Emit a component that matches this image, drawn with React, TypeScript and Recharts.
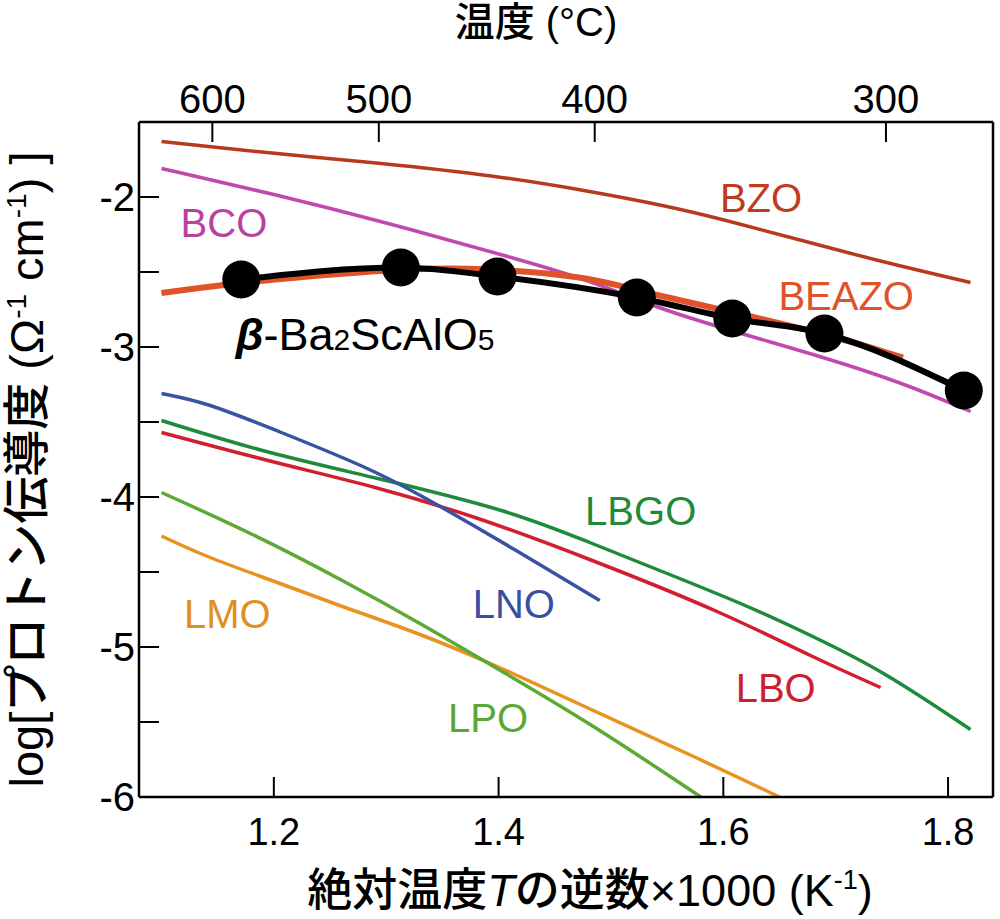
import React from "react";
import { LineChart, Line, XAxis, YAxis, ReferenceLine, ReferenceDot } from "recharts";

const FONT = "'Liberation Sans', Arial, 'Noto Sans CJK JP', sans-serif";

// axis ticks
const X_TICKS = [1.2, 1.4, 1.6, 1.8];
const Y_TICKS = [-6, -5.5, -5, -4.5, -4, -3.5, -3, -2.5, -2];
const TEMP_TICKS_C = [600, 500, 400, 300];

// series: [1000/T, log sigma]
const BZO = [[1.10, -1.63], [1.20, -1.71], [1.29, -1.77], [1.40, -1.86], [1.48, -1.96], [1.55, -2.06], [1.60, -2.15], [1.67, -2.29], [1.74, -2.43], [1.82, -2.57]];
const BCO = [[1.10, -1.81], [1.20, -1.98], [1.30, -2.17], [1.41, -2.40], [1.48, -2.55], [1.54, -2.74], [1.62, -2.92], [1.69, -3.07], [1.76, -3.24], [1.82, -3.43]];
const BEAZO = [[1.10, -2.64], [1.17, -2.57], [1.26, -2.51], [1.32, -2.48], [1.38, -2.47], [1.48, -2.53], [1.52, -2.62], [1.61, -2.77], [1.69, -2.91], [1.76, -3.07]];
const BSAO = [[1.171, -2.55], [1.313, -2.47], [1.399, -2.53], [1.523, -2.67], [1.608, -2.81], [1.690, -2.91], [1.814, -3.29]];
const LNO = [[1.10, -3.31], [1.14, -3.37], [1.20, -3.55], [1.29, -3.82], [1.35, -4.07], [1.41, -4.33], [1.49, -4.69]];
const LBGO = [[1.10, -3.49], [1.19, -3.70], [1.29, -3.87], [1.41, -4.09], [1.48, -4.30], [1.55, -4.51], [1.62, -4.72], [1.68, -4.93], [1.74, -5.15], [1.82, -5.55]];
const LBO = [[1.10, -3.57], [1.20, -3.77], [1.29, -3.93], [1.38, -4.13], [1.48, -4.41], [1.60, -4.77], [1.68, -5.07], [1.74, -5.27]];
const LPO = [[1.10, -3.97], [1.18, -4.24], [1.26, -4.55], [1.33, -4.84], [1.40, -5.15], [1.48, -5.50], [1.58, -6.0]];
const LMO = [[1.10, -4.26], [1.14, -4.40], [1.20, -4.56], [1.26, -4.73], [1.33, -4.91], [1.40, -5.13], [1.48, -5.41], [1.58, -5.75], [1.65, -6.0]];

const pts = (arr: number[][]) => arr.map(([x, y]) => ({ x, y }));

const SERIES = [
  { key: "LMO", data: LMO, color: "#e8931f", width: 3.5 },
  { key: "LPO", data: LPO, color: "#5ca934", width: 3.5 },
  { key: "LBO", data: LBO, color: "#d21f30", width: 3.5 },
  { key: "LBGO", data: LBGO, color: "#1e8a3c", width: 3.5 },
  { key: "LNO", data: LNO, color: "#3a52a3", width: 3.5 },
  { key: "BZO", data: BZO, color: "#b83a1e", width: 3.5 },
  { key: "BCO", data: BCO, color: "#c049ad", width: 3.5 },
  { key: "BEAZO", data: BEAZO, color: "#e0532a", width: 6 },
];

// label anchors (text start, baseline) in data units
const LABELS = [
  { text: "BZO", x: 1.597, y: -2.10, color: "#c03c1f" },
  { text: "BEAZO", x: 1.649, y: -2.753, color: "#e0532a" },
  { text: "BCO", x: 1.117, y: -2.267, color: "#b8429f" },
  { text: "LNO", x: 1.377, y: -4.807, color: "#3a4fa0" },
  { text: "LMO", x: 1.12, y: -4.873, color: "#e0901e" },
  { text: "LPO", x: 1.355, y: -5.567, color: "#5aa832" },
  { text: "LBGO", x: 1.477, y: -4.187, color: "#1f8a3a" },
  { text: "LBO", x: 1.611, y: -5.367, color: "#cc1f2e" },
];

const BottomTick = (props: any) => {
  const { x, y, payload } = props;
  return (
    <g>
      <line x1={x} y1={y} x2={x} y2={y - 20} stroke="#000" strokeWidth={2} />
      <text x={x} y={y + 48} textAnchor="middle" fontSize={38} fontFamily={FONT} fill="#000">
        {Number(payload.value).toFixed(1)}
      </text>
    </g>
  );
};

const TopTick = (props: any) => {
  const { x, y, payload } = props;
  const c = Math.round(1000 / payload.value - 273.15);
  return (
    <g>
      <line x1={x} y1={y} x2={x} y2={y + 20} stroke="#000" strokeWidth={2} />
      <text x={x} y={y - 9} textAnchor="middle" fontSize={40} fontFamily={FONT} fill="#000">
        {c}
      </text>
    </g>
  );
};

const LeftTick = (props: any) => {
  const { x, y, payload } = props;
  const v = payload.value;
  return (
    <g>
      {v > -6 && <line x1={x} y1={y} x2={x + 20} y2={y} stroke="#000" strokeWidth={2} />}
      {Number.isInteger(v) && (
        <text x={x - 4} y={y + 14} textAnchor="end" fontSize={40} fontFamily={FONT} fill="#000">
          {v}
        </text>
      )}
    </g>
  );
};

const BottomTitle = (props: any) => {
  const vb = props.viewBox || { x: 139, y: 797, width: 854, height: 60 };
  return (
    <text x={vb.x + vb.width / 2 + 24} y={906} textAnchor="middle" fontSize={45} fontWeight={500} fontFamily={FONT} fill="#000">
      絶対温度<tspan fontStyle="italic">T</tspan>の逆数×1000 (K<tspan dy={-17} fontSize={27}>-1</tspan><tspan dy={17}>)</tspan>
    </text>
  );
};

const TopTitle = (props: any) => {
  const vb = props.viewBox || { x: 139, y: 62, width: 854, height: 60 };
  return (
    <text x={vb.x + vb.width / 2 - 30} y={36} textAnchor="middle" fontSize={40} fontWeight={500} fontFamily={FONT} fill="#000">
      温度 (°C)
    </text>
  );
};

const LeftTitle = (props: any) => {
  const vb = props.viewBox || { x: 79, y: 122, width: 60, height: 675 };
  const cy = vb.y + vb.height / 2 + 10;
  return (
    <text x={43} y={cy} transform={`rotate(-90 43 ${cy})`} textAnchor="middle" fontSize={47} fontWeight={500} fontFamily={FONT} fill="#000">
      log[プロトン伝導度 (Ω<tspan dy={-17} fontSize={28}>-1</tspan><tspan dy={17}> cm</tspan><tspan dy={-17} fontSize={28}>-1</tspan><tspan dy={17}>) ]</tspan>
    </text>
  );
};

export default function App() {
  return (
    <div style={{ position: "absolute", left: 0, top: 0, width: 1000, height: 919, background: "#fff" }}>
      <LineChart width={1000} height={919} margin={{ top: 62, right: 7, bottom: 62, left: 79 }}>
        <XAxis
          type="number"
          dataKey="x"
          domain={[1.08, 1.84]}
          allowDataOverflow
          ticks={X_TICKS}
          height={60}
          tickLine={false}
          tickSize={0}
          tickMargin={0}
          tick={<BottomTick />}
          axisLine={{ stroke: "#000", strokeWidth: 2.5 }}
          label={{ content: (p: any) => <BottomTitle {...p} /> }}
        />
        <XAxis
          xAxisId="top"
          orientation="top"
          type="number"
          dataKey="x"
          domain={[1.08, 1.84]}
          allowDataOverflow
          ticks={TEMP_TICKS_C.map((c) => 1000 / (c + 273.15))}
          height={60}
          tickLine={false}
          tickSize={0}
          tickMargin={0}
          tick={<TopTick />}
          axisLine={{ stroke: "#000", strokeWidth: 2.5 }}
          label={{ content: (p: any) => <TopTitle {...p} /> }}
        />
        <YAxis
          type="number"
          domain={[-6, -1.5]}
          allowDataOverflow
          ticks={Y_TICKS}
          width={60}
          tickLine={false}
          tickSize={0}
          tickMargin={0}
          tick={<LeftTick />}
          axisLine={{ stroke: "#000", strokeWidth: 2.5 }}
          label={{ content: (p: any) => <LeftTitle {...p} /> }}
        />
        <ReferenceLine x={1.84} stroke="#000" strokeWidth={2.5} />

        {SERIES.map((s) => (
          <Line
            key={s.key}
            data={pts(s.data)}
            dataKey="y"
            type="basis"
            stroke={s.color}
            strokeWidth={s.width}
            dot={false}
            isAnimationActive={false}
          />
        ))}
        <Line
          data={pts(BSAO)}
          dataKey="y"
          type="monotone"
          stroke="#000"
          strokeWidth={6}
          dot={{ r: 19, fill: "#000", stroke: "#000", strokeWidth: 0 }}
          isAnimationActive={false}
        />

        {LABELS.map((l) => (
          <ReferenceDot
            key={l.text}
            x={l.x}
            y={l.y}
            r={1}
            fill="none"
            stroke="none"
            label={{
              content: (p: any) => (
                <text x={p.viewBox.x + 1} y={p.viewBox.y + 1} fontSize={40} fontFamily={FONT} fill={l.color}>
                  {l.text}
                </text>
              ),
            }}
          />
        ))}
        <ReferenceDot
          x={1.166}
          y={-3.02}
          r={1}
          fill="none"
          stroke="none"
          label={{
            content: (p: any) => (
              <text x={p.viewBox.x + 1} y={p.viewBox.y + 1} fontSize={45} fontFamily={FONT} fill="#000">
                <tspan fontStyle="italic" fontWeight="bold">β</tspan>-Ba<tspan fontSize={30}>2</tspan>ScAlO<tspan fontSize={30}>5</tspan>
              </text>
            ),
          }}
        />
      </LineChart>
    </div>
  );
}
